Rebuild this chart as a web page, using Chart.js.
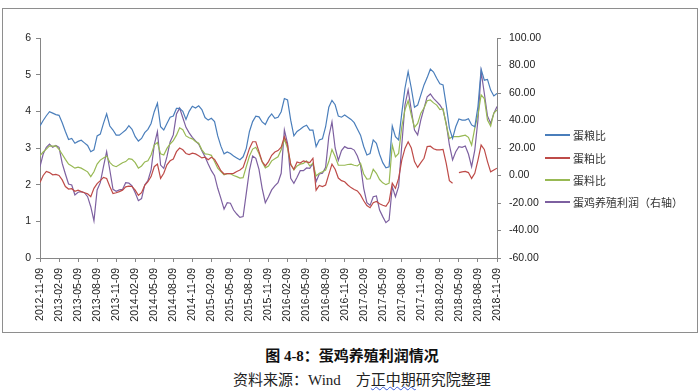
<!DOCTYPE html>
<html><head><meta charset="utf-8">
<script src="https://cdn.jsdelivr.net/npm/chart.js@4"></script>
<style>
body{margin:0;background:#fff;}
#wrap{position:relative;width:700px;height:391px;overflow:hidden;background:#fff;}
#frame{position:absolute;left:2px;top:8px;width:696px;height:325px;border:1px solid #8e8e8e;box-sizing:border-box;}
#c{position:absolute;left:0;top:0;}
.ln{position:absolute;left:545px;width:25px;height:2px;}
.tx{position:absolute;left:573px;font:11px "Noto Sans CJK SC","Liberation Sans",sans-serif;color:#333;white-space:nowrap;line-height:16px;}
#title{position:absolute;left:0;width:704px;top:344px;text-align:center;font:bold 15px "Liberation Serif","Noto Sans CJK SC",serif;color:#111;}
#src{position:absolute;left:0;width:724px;top:368px;text-align:center;font:15px "Liberation Serif","Noto Sans CJK SC",serif;color:#222;}
#src .w{text-decoration-line:underline;text-decoration-style:wavy;text-decoration-color:#3b5bd6;text-decoration-thickness:1px;text-underline-offset:1px;}
</style></head>
<body><div id="wrap">
<div id="frame"></div>
<canvas id="c" width="700" height="340"></canvas>
<div class="ln" style="top:134px;background:#4A7EBB"></div><div class="tx" style="top:127px">蛋粮比</div>
<div class="ln" style="top:157px;background:#BE4B48"></div><div class="tx" style="top:150px">蛋粕比</div>
<div class="ln" style="top:179px;background:#98B954"></div><div class="tx" style="top:172px">蛋料比</div>
<div class="ln" style="top:201px;background:#7D60A0"></div><div class="tx" style="top:194px">蛋鸡养殖利润（右轴）</div>
<div id="title">图 4-8：蛋鸡养殖利润情况</div>
<div id="src">资料来源：Wind　方<span class="w">正中期</span>研究院整理</div>
</div>
<script>
const tickLabels = ["2012-11-09","2013-02-09","2013-05-09","2013-08-09","2013-11-09","2014-02-09","2014-05-09","2014-08-09","2014-11-09","2015-02-09","2015-05-09","2015-08-09","2015-11-09","2016-02-09","2016-05-09","2016-08-09","2016-11-09","2017-02-09","2017-05-09","2017-08-09","2017-11-09","2018-02-09","2018-05-09","2018-08-09","2018-11-09"];
const pointsPerTick = 6;
const seriesNames = ["蛋粮比","蛋粕比","蛋料比","蛋鸡养殖利润（右轴）"];
const eggGrain = [3.6,3.75,3.88,3.99,3.95,3.91,3.89,3.69,3.45,3.23,3.26,3.13,3.18,3.21,3.14,3.07,2.9,2.95,3.33,3.38,3.67,3.93,3.6,3.49,3.35,3.35,3.42,3.49,3.61,3.51,3.31,3.19,3.26,3.42,3.51,3.67,3.99,4.22,3.58,3.49,3.67,3.84,3.87,4.08,4.08,4.0,3.78,4.0,4.14,4.09,4.15,4.05,3.83,3.76,3.81,3.72,3.33,3.05,2.84,2.89,2.85,2.78,2.73,2.68,2.76,2.99,3.45,3.72,3.87,3.85,3.71,3.64,3.82,3.93,3.81,3.84,3.99,4.35,4.31,3.76,3.33,3.45,3.51,3.58,3.62,3.49,3.49,3.04,3.22,3.25,3.58,4.11,4.3,4.18,3.87,3.84,3.9,3.84,3.78,3.69,3.52,3.35,3.04,2.81,2.85,3.22,3.13,2.83,2.6,2.46,2.49,3.6,3.31,3.22,3.95,4.63,5.08,4.63,4.11,4.17,4.45,4.72,4.92,5.15,5.07,4.9,4.75,4.72,4.17,3.54,3.26,3.58,3.79,3.76,3.76,3.8,3.63,3.58,4.13,5.15,4.85,4.87,4.58,4.42,4.49];
const eggMeal = [2.06,2.25,2.36,2.33,2.27,2.28,2.25,2.13,1.95,1.88,1.89,1.82,1.85,1.81,1.78,1.75,1.67,1.9,2.03,2.11,2.2,2.17,1.95,1.76,1.78,1.81,1.85,1.94,1.96,1.95,1.85,1.71,1.78,1.98,2.08,2.22,2.49,2.56,2.17,2.31,2.54,2.65,2.7,2.9,3.0,2.95,2.85,2.82,2.86,2.84,2.79,2.73,2.75,2.68,2.75,2.69,2.54,2.38,2.29,2.3,2.3,2.31,2.36,2.4,2.47,2.72,2.99,3.17,3.17,2.9,2.63,2.51,2.63,2.8,2.89,2.93,3.02,3.31,3.08,2.54,2.42,2.62,2.59,2.65,2.62,2.6,2.72,1.85,1.98,1.95,1.99,2.28,2.56,2.42,2.18,2.11,2.08,1.99,1.92,1.87,1.83,1.72,1.56,1.43,1.37,1.51,1.54,1.48,1.44,1.41,1.54,2.04,1.9,2.17,2.67,2.99,3.17,3.0,2.63,2.47,2.6,2.72,3.04,3.05,2.98,2.95,2.95,2.96,2.58,2.11,2.04,null,2.33,2.35,2.36,2.33,2.17,2.31,2.67,3.08,2.96,2.63,2.35,2.4,2.45];
const eggFeed = [2.79,2.89,2.97,3.06,3.05,3.06,2.96,2.83,2.69,2.56,2.51,2.45,2.48,2.45,2.4,2.35,2.22,2.35,2.56,2.67,2.73,2.78,2.61,2.52,2.49,2.54,2.6,2.63,2.71,2.69,2.6,2.45,2.51,2.62,2.65,2.81,3.08,3.15,2.84,2.81,2.99,3.11,3.2,3.35,3.55,3.5,3.33,3.28,3.25,3.18,3.13,2.95,2.84,2.83,2.8,2.63,2.45,2.36,2.27,2.3,2.3,2.25,2.22,2.18,2.19,2.49,2.78,2.97,3.02,2.85,2.62,2.46,2.51,2.65,2.71,2.76,2.95,3.24,2.99,2.56,2.4,2.51,2.56,2.58,2.65,2.51,2.58,2.24,2.31,2.35,2.4,2.63,2.96,2.77,2.53,2.53,2.53,2.55,2.56,2.53,2.51,2.58,2.29,2.15,2.16,2.42,2.31,2.14,2.05,2.0,2.04,3.08,2.76,2.85,3.58,4.04,4.29,3.9,3.56,3.67,3.95,4.09,4.29,4.31,4.23,4.17,4.05,4.07,3.63,3.26,3.31,3.31,3.31,3.33,3.35,3.29,3.08,3.54,3.9,4.45,4.35,3.76,3.6,3.95,4.04];
const layerProfit = [6.4,15.6,20.5,22.9,20.5,21.9,20.5,8.8,1.1,-6.2,-6.9,-14.2,-12.2,-11.8,-12.5,-15.4,-22.7,-33,-10.5,-5.2,6.4,17.3,4.0,-10.1,-11.5,-10.5,-10.1,-5.2,-5.5,-7.6,-12.5,-18.3,-16.8,-6.9,-3.8,4.0,22.2,31.9,7.6,5.2,13.7,24.4,29.5,44.7,49,42,35,31,27.8,25.1,22.9,18.1,13.7,8.4,3.5,-0.1,-9.3,-16.6,-24.4,-19.8,-20.2,-25.1,-28.0,-30.4,-29.9,-13.0,4.0,14.2,12.5,4.5,-9.3,-19.8,-15.4,-10.5,-7.6,-5.2,1.6,33.1,23.4,-2.1,-5.7,-1.3,3.5,3.5,5.5,5.2,8.8,-4.5,1.1,1.6,5.9,28.2,39,20,11,18.1,21.0,19.8,19.8,18.5,14.2,7.6,-9.3,-19.8,-21.7,-15.4,-14.9,-25.1,-29.9,-34.3,-32.4,-8.1,-15.4,-8.1,22.2,51.3,62.2,47.6,33.1,29.5,40.4,48.8,57.3,59.3,56.1,53.7,51.3,47.6,37.9,22.2,11.3,17.3,21.0,20.5,21.5,15.6,6.4,18.5,40.4,75.5,59.8,43.3,37.9,45.2,50.1];

const toXY = arr => arr.map((v, i) => ({x: i, y: v}));
const axisColor = '#868686';
const tickFont = {family: '"Liberation Sans", Arial, sans-serif', size: 10.5};
const lastIdx = (tickLabels.length - 1) * pointsPerTick;

new Chart(document.getElementById('c'), {
  type: 'line',
  data: {
    datasets: [
      {label: seriesNames[0], data: toXY(eggGrain), borderColor: '#4A7EBB', yAxisID: 'y'},
      {label: seriesNames[1], data: toXY(eggMeal), borderColor: '#BE4B48', yAxisID: 'y'},
      {label: seriesNames[2], data: toXY(eggFeed), borderColor: '#98B954', yAxisID: 'y'},
      {label: seriesNames[3], data: toXY(layerProfit), borderColor: '#7D60A0', yAxisID: 'y1'}
    ]
  },
  options: {
    responsive: false,
    animation: false,
    devicePixelRatio: 1,
    layout: {padding: {top: 38, left: 0, right: 0, bottom: 0}},
    elements: {line: {borderWidth: 1.2, tension: 0, fill: false}, point: {radius: 0, hoverRadius: 0}},
    spanGaps: false,
    plugins: {legend: {display: false}, tooltip: {enabled: false}},
    scales: {
      x: {
        type: 'linear', min: 0, max: lastIdx, offset: false,
        afterBuildTicks: s => { s.ticks = tickLabels.map((_, i) => ({value: i * pointsPerTick})); },
        afterFit: s => { s.height = 82; },
        ticks: {autoSkip: false, maxRotation: 90, minRotation: 90, padding: 6, color: '#222', font: tickFont,
          callback: v => tickLabels[Math.round(v / pointsPerTick)]},
        grid: {drawOnChartArea: false, drawTicks: true, tickLength: 4, color: axisColor},
        border: {display: true, color: axisColor}
      },
      y: {
        position: 'left', min: 0, max: 6,
        afterFit: s => { s.width = 40; },
        ticks: {stepSize: 1, padding: 5, color: '#222', font: tickFont},
        grid: {drawOnChartArea: false, drawTicks: true, tickLength: 4, color: axisColor},
        border: {display: true, color: axisColor}
      },
      y1: {
        position: 'right', min: -60, max: 100,
        afterFit: s => { s.width = 203; },
        ticks: {stepSize: 20, padding: 8, color: '#222', font: tickFont, callback: v => v.toFixed(2)},
        grid: {drawOnChartArea: false, drawTicks: true, tickLength: 4, color: axisColor},
        border: {display: true, color: axisColor}
      }
    }
  }
});
</script>
</body></html>
